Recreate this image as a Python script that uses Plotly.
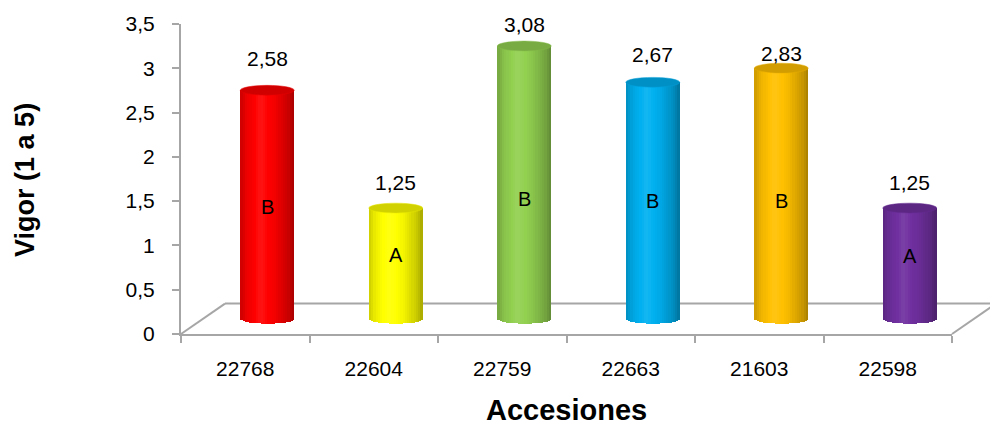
import numpy as np
import plotly.graph_objects as go

# ---- data ----
accessions = ["22768", "22604", "22759", "22663", "21603", "22598"]
vigor = [2.58, 1.25, 3.08, 2.67, 2.83, 1.25]
groups = ["B", "A", "B", "B", "B", "A"]
bar_colors = ["#ff0000", "#ffff00", "#92d050", "#00b0f0", "#ffc000", "#7030a0"]

# ---- label placement (pixels above cylinder top / height of group letter) ----
value_label_shift = [32, 26, 21, 28, 15, 26]
group_label_y = [1.26, 0.72, 1.35, 1.33, 1.33, 0.71]

FONT = "Liberation Sans, Arial, sans-serif"
AXIS_GREY = "#a6a6a6"

# plot-area geometry (pixels)
W, H = 990, 425
L, R, T, B = 181, 38, 18, 91
plot_w = W - L - R
plot_h = H - T - B
y_max = 3.5
px_per_cat = plot_w / len(accessions)
px_per_unit = plot_h / y_max

# 3-D depth of the floor and of the cylinders (cylinders sit half-way back)
depth_px = (44, 31)
dx = (depth_px[0] / 2) / px_per_cat
dy = (depth_px[1] / 2) / px_per_unit

bar_w = 0.42                     # cylinder width, category units
cap_h = 5 / px_per_unit          # semi-height of the elliptical ends
n_strips = 24
strip_w = bar_w / n_strips

# brightness profile across a cylinder (left -> right)
prof_t = [0.0, 0.12, 0.38, 0.65, 0.88, 1.0]
prof_b = [0.80, 0.93, 1.05, 0.95, 0.80, 0.66]


def shade(hexc, b):
    rgb = np.array([int(hexc[i:i + 2], 16) for i in (1, 3, 5)], dtype=float)
    if b <= 1:
        out = rgb * b
    else:
        f = min(1.0, (b - 1) * 1.6)
        out = rgb + (255 - rgb) * f
    out = np.clip(out, 0, 255).round().astype(int)
    return "rgb({},{},{})".format(*out)


fig = go.Figure()

# invisible trace that carries the category axis
fig.add_trace(go.Scatter(x=accessions, y=[0] * len(accessions), mode="markers",
                         marker=dict(opacity=0), hoverinfo="skip", showlegend=False))

xi = list(range(len(accessions)))
for k in range(n_strips):
    t = (k + 0.5) / n_strips
    u = 2 * t - 1
    e = cap_h * np.sqrt(max(0.0, 1 - u * u))     # rounded bottom of the cylinder
    b = float(np.interp(t, prof_t, prof_b))
    fig.add_trace(go.Bar(
        x=xi,
        y=[v + e for v in vigor],
        base=[-e] * len(vigor),
        width=strip_w * (1.35 if k < n_strips - 1 else 1.0),
        offset=-bar_w / 2 + k * strip_w,
        marker=dict(color=[shade(c, b) for c in bar_colors], line=dict(width=0)),
        xaxis="x2", yaxis="y2",
        hoverinfo="skip", showlegend=False,
    ))

shapes = []
# cylinder tops
for i, (v, c) in enumerate(zip(vigor, bar_colors)):
    shapes.append(dict(type="circle", xref="x2", yref="y2",
                       x0=i - bar_w / 2, x1=i + bar_w / 2,
                       y0=v - cap_h, y1=v + cap_h,
                       fillcolor=shade(c, 0.82),
                       line=dict(color=shade(c, 0.9), width=0.5), layer="above"))

# floor outline
fdx = depth_px[0] / plot_w
fdy = depth_px[1] / plot_h
floor_lines = [((0, 0), (fdx, fdy)), ((fdx, fdy), (1 + fdx, fdy)), ((1, 0), (1 + fdx, fdy))]
for (x0, y0), (x1, y1) in floor_lines:
    shapes.append(dict(type="line", xref="paper", yref="paper", x0=x0, y0=y0, x1=x1, y1=y1,
                       line=dict(color=AXIS_GREY, width=2), layer="below"))

annotations = []
for i, v in enumerate(vigor):
    annotations.append(dict(xref="x2", yref="y2", x=i, y=v, yshift=value_label_shift[i],
                            text=f"{v:.2f}".replace(".", ","), showarrow=False,
                            font=dict(family=FONT, size=21, color="black"),
                            xanchor="center", yanchor="middle"))
    annotations.append(dict(xref="x2", yref="y2", x=i, y=group_label_y[i],
                            text=groups[i], showarrow=False,
                            font=dict(family=FONT, size=20, color="black"),
                            xanchor="center", yanchor="middle"))

# axis titles
annotations.append(dict(xref="paper", yref="paper", x=(25 - L) / plot_w, y=0.497,
                        text="<b>Vigor (1 a 5)</b>", textangle=-90, showarrow=False,
                        font=dict(family=FONT, size=27, color="black"),
                        xanchor="center", yanchor="middle"))
annotations.append(dict(xref="paper", yref="paper", x=0.4994, y=(T + plot_h - 411) / plot_h,
                        text="<b>Accesiones</b>", showarrow=False,
                        font=dict(family=FONT, size=29, color="black"),
                        xanchor="center", yanchor="middle"))

fig.update_layout(
    width=W, height=H,
    margin=dict(l=L, r=R, t=T, b=B, pad=0),
    paper_bgcolor="white", plot_bgcolor="rgba(0,0,0,0)",
    barmode="overlay", bargap=0,
    separators=",.",
    shapes=shapes, annotations=annotations,
    xaxis=dict(type="category", categoryorder="array", categoryarray=accessions,
               range=[-0.5, len(accessions) - 0.5], tickson="boundaries",
               ticks="outside", ticklen=7, tickwidth=2, tickcolor=AXIS_GREY,
               showline=True, linecolor=AXIS_GREY, linewidth=2,
               showgrid=False, zeroline=False, ticklabelstandoff=15,
               tickfont=dict(family=FONT, size=21, color="black"), fixedrange=True),
    yaxis=dict(range=[0, y_max], tick0=0, dtick=0.5,
               ticks="outside", ticklen=7, tickwidth=2, tickcolor=AXIS_GREY,
               showline=True, linecolor=AXIS_GREY, linewidth=2,
               showgrid=False, zeroline=False, ticklabelstandoff=13,
               tickfont=dict(family=FONT, size=21, color="black"), fixedrange=True),
    xaxis2=dict(overlaying="x", range=[-0.5 - dx, len(accessions) - 0.5 - dx],
                visible=False, fixedrange=True),
    yaxis2=dict(overlaying="y", range=[-dy, y_max - dy], visible=False, fixedrange=True),
)

fig.write_html("out.html")
